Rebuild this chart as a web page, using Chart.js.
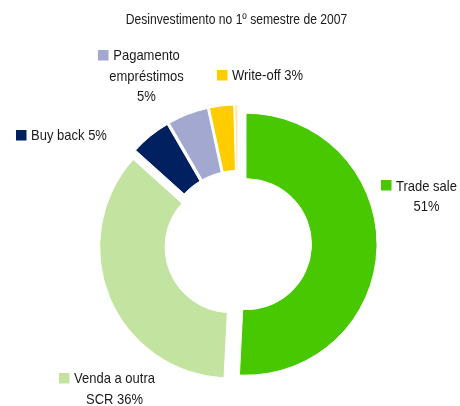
<!DOCTYPE html>
<html>
<head>
<meta charset="utf-8">
<script src="https://cdn.jsdelivr.net/npm/chart.js@4/dist/chart.umd.min.js"></script>
<style>
  html, body { margin: 0; padding: 0; background: #fff; }
  #wrap { width: 460px; height: 406px; }
</style>
</head>
<body>
<div id="wrap"><canvas id="graph0"></canvas></div>
<script>
var titleText = 'Desinvestimento no 1º semestre de 2007';
var categories = ['Trade sale', 'Venda a outra SCR', 'Buy back', 'Pagamento empréstimos', 'Write-off', 'Outros'];
var values = [51, 36, 5, 5, 3, 0.4];
var colors = ['#47c800', '#c2e4a0', '#002060', '#a3a8d0', '#ffcc00', '#ffeba5'];
// {v} is replaced by the value, \n breaks the line; null = no label
var labelTexts = ['Trade sale\n{v}%', 'Venda a outra\nSCR {v}%', 'Buy back {v}%', 'Pagamento\nempréstimos\n{v}%', 'Write-off {v}%', null];
// text centre / first baseline, relative to the doughnut centre
var labelPos = [[188.5, -53.5], [-123.5, 139], [-169, -104], [-91.5, -184], [29.5, -164], null];

var explode = 8;
var lineH = 20.7;
var squeeze = 0.866;   // narrow look of the text
var labelFont = '15px "Liberation Sans", Arial, sans-serif';
var titleFont = '14px "Liberation Sans", Arial, sans-serif';
var textColor = '#1a1a1a';

// pull every slice outwards along its middle angle
var explodePlugin = {
  id: 'explode',
  afterDatasetUpdate: function(chart, args) {
    var area = chart.chartArea;
    var cx = (area.left + area.right) / 2;
    var cy = (area.top + area.bottom) / 2;
    args.meta.data.forEach(function(arc) {
      var mid = (arc.startAngle + arc.endAngle) / 2;
      arc.x = cx + Math.cos(mid) * explode;
      arc.y = cy + Math.sin(mid) * explode;
    });
  }
};

function narrowText(ctx, text, x, y) {
  ctx.save();
  ctx.translate(x, y);
  ctx.scale(squeeze, 1);
  ctx.fillText(text, 0, 0);
  ctx.restore();
  return ctx.measureText(text).width * squeeze;
}

var labelPlugin = {
  id: 'labels',
  afterDraw: function(chart) {
    var ctx = chart.ctx;
    var area = chart.chartArea;
    var cx = (area.left + area.right) / 2;
    var cy = (area.top + area.bottom) / 2;

    ctx.save();
    ctx.textAlign = 'center';
    ctx.textBaseline = 'alphabetic';
    ctx.fillStyle = textColor;
    ctx.font = titleFont;
    narrowText(ctx, titleText, cx - 1.5, 23.5);

    ctx.font = labelFont;
    for (var i = 0; i < categories.length; i++) {
      if (!labelTexts[i]) continue;
      var lines = labelTexts[i].replace('{v}', values[i]).split('\n');
      var x = cx + labelPos[i][0];
      var y = cy + labelPos[i][1];
      for (var j = 0; j < lines.length; j++) {
        ctx.fillStyle = textColor;
        var w = narrowText(ctx, lines[j], x, y + j * lineH);
        if (j == 0) {
          ctx.fillStyle = colors[i];
          ctx.fillRect(Math.round(x - w / 2 - 15.5), Math.round(y - 10.5), 10.5, 10.5);
        }
      }
    }
    ctx.restore();
  }
};

function drawPieGraph() {
  var ctx = document.getElementById('graph0');
  new Chart(ctx, {
    type: 'doughnut',
    data: {
      labels: categories,
      datasets: [{
        data: values,
        backgroundColor: colors,
        borderColor: '#ffffff',
        borderWidth: 1
      }]
    },
    options: {
      responsive: true,
      maintainAspectRatio: false,
      animation: false,
      events: [],
      radius: 131,
      cutout: '50%',
      layout: { padding: { left: 16, right: 0, top: 82, bottom: 0 } },
      plugins: {
        legend: { display: false },
        title: { display: false },
        tooltip: { enabled: false }
      }
    },
    plugins: [explodePlugin, labelPlugin]
  });
}

drawPieGraph();
</script>
</body>
</html>
